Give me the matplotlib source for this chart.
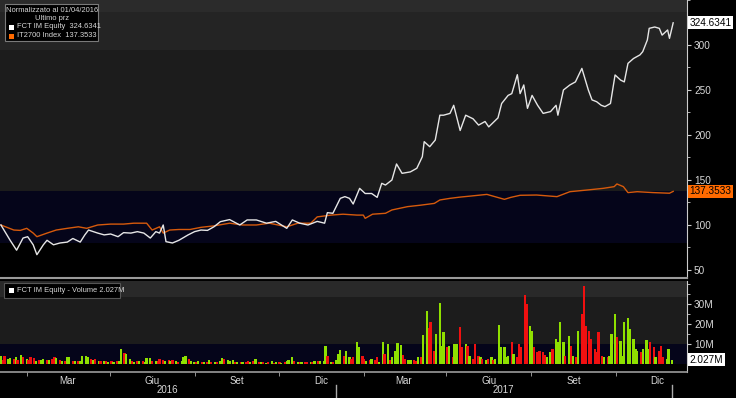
import pandas as pd
import matplotlib
matplotlib.use("Agg")
import matplotlib.pyplot as plt
import matplotlib.dates as mdates
from matplotlib.patches import Rectangle
from matplotlib.ticker import FixedLocator, MultipleLocator
from matplotlib.transforms import blended_transform_factory

plt.rcParams['font.family'] = ['Liberation Sans', 'DejaVu Sans']

# FCT IM Equity, normalised to 100 at 01/04/2016
fct_dates = [
    '2016-01-04', '2016-01-14', '2016-01-21', '2016-01-28', '2016-02-02', '2016-02-08',
    '2016-02-12', '2016-02-19', '2016-02-23', '2016-03-01', '2016-03-08', '2016-03-16',
    '2016-03-22', '2016-03-30', '2016-04-04', '2016-04-08', '2016-04-18', '2016-04-25',
    '2016-05-02', '2016-05-10', '2016-05-16', '2016-05-24', '2016-05-31', '2016-06-07',
    '2016-06-14', '2016-06-20', '2016-06-24', '2016-06-28', '2016-07-01', '2016-07-08',
    '2016-07-15', '2016-07-25', '2016-08-01', '2016-08-08', '2016-08-15', '2016-08-22',
    '2016-08-29', '2016-09-08', '2016-09-19', '2016-09-27', '2016-10-07', '2016-10-18',
    '2016-10-28', '2016-11-09', '2016-11-15', '2016-11-23', '2016-12-02', '2016-12-12',
    '2016-12-20', '2016-12-23', '2016-12-29', '2017-01-06', '2017-01-11', '2017-01-16',
    '2017-01-20', '2017-01-27', '2017-02-02', '2017-02-09', '2017-02-15', '2017-02-20',
    '2017-02-24', '2017-03-03', '2017-03-08', '2017-03-14', '2017-03-23', '2017-03-30',
    '2017-04-05', '2017-04-07', '2017-04-13', '2017-04-19', '2017-04-24', '2017-04-28',
    '2017-05-05', '2017-05-09', '2017-05-16', '2017-05-22', '2017-05-30', '2017-06-05',
    '2017-06-12', '2017-06-16', '2017-06-26', '2017-06-30', '2017-07-07', '2017-07-11',
    '2017-07-17', '2017-07-20', '2017-07-24', '2017-07-28', '2017-08-02', '2017-08-08',
    '2017-08-14', '2017-08-22', '2017-08-28', '2017-08-30', '2017-09-05', '2017-09-12',
    '2017-09-18', '2017-09-25', '2017-10-02', '2017-10-06', '2017-10-11', '2017-10-16',
    '2017-10-20', '2017-10-26', '2017-10-31', '2017-11-06', '2017-11-10', '2017-11-14',
    '2017-11-20', '2017-11-27', '2017-11-30', '2017-12-05', '2017-12-07', '2017-12-13',
    '2017-12-18', '2017-12-21', '2017-12-27', '2017-12-29', '2018-01-02']
fct_vals = [
    100, 83, 72, 85.5, 87, 78, 67, 78, 83, 78, 80, 81,
    85, 81, 89, 94.4, 91, 89, 90, 87, 91.5, 91, 92.6, 91,
    85.5, 92.6, 91, 100, 81.5, 80, 83, 89, 92.6, 94.4, 94, 98,
    103.7, 106, 100, 105.6, 105.6, 102, 104, 96.3, 105.6, 102, 100, 104,
    102, 113.7, 113, 129.6, 131.5, 129.6, 123.3, 140.7, 135, 135, 130.7, 146.3,
    144.4, 150, 167.8, 157.4, 159, 163, 175.9, 192.6, 187, 194.4, 222, 222,
    224, 233, 205, 222, 218, 211, 215, 209, 219, 235, 244, 246,
    267, 246, 255.6, 229.6, 244, 233, 224, 226, 233, 222, 250, 255.6,
    259, 274, 250, 239, 237, 233, 231.5, 235, 266.7, 261, 259, 279.6,
    285, 289, 292.6, 305.6, 318.5, 320, 318.5, 311, 316.7, 307.4, 324.6341]

# IT2700 Index, normalised to 100 at 01/04/2016
it_dates = [
    '2016-01-04', '2016-01-18', '2016-01-25', '2016-02-01', '2016-02-08', '2016-02-12',
    '2016-02-23', '2016-03-04', '2016-03-16', '2016-03-28', '2016-04-06', '2016-04-18',
    '2016-05-02', '2016-05-16', '2016-05-27', '2016-06-10', '2016-06-16', '2016-06-24',
    '2016-06-28', '2016-07-05', '2016-07-15', '2016-07-27', '2016-08-08', '2016-08-22',
    '2016-09-08', '2016-09-22', '2016-10-07', '2016-10-21', '2016-11-09', '2016-11-21',
    '2016-12-05', '2016-12-12', '2016-12-27', '2017-01-09', '2017-01-24', '2017-01-31',
    '2017-02-02', '2017-02-10', '2017-02-24', '2017-03-03', '2017-03-20', '2017-04-03',
    '2017-04-18', '2017-04-24', '2017-05-05', '2017-05-16', '2017-05-26', '2017-06-14',
    '2017-07-03', '2017-07-10', '2017-07-20', '2017-08-07', '2017-08-29', '2017-09-12',
    '2017-10-02', '2017-10-18', '2017-10-30', '2017-11-02', '2017-11-09', '2017-11-14',
    '2017-11-24', '2017-12-11', '2017-12-29', '2018-01-02']
it_vals = [
    100, 94.4, 94, 96.3, 91, 87, 91, 94.4, 96.3, 98, 96.3, 100,
    101, 101, 102, 102, 94.4, 98, 91, 94.4, 95, 95, 97.4, 99,
    102, 100, 100, 102, 98, 102, 102, 109, 111, 112, 111, 111,
    107.4, 112, 113, 116.7, 120.4, 122, 124, 127.8, 129.6, 131, 132, 134,
    128.5, 130.7, 133, 133.3, 131.5, 137, 139, 140.7, 142.6, 145.6, 142.6, 136,
    137, 136, 135.3, 137.3533]

# FCT volume (millions), one bar per two trading days, grouped by month
vol_m = [
    3.8, 2.0, 4.2, 2.5, 2.8, 2.5, 3.3, 2.2, 4.7, 3.3,
    2.5, 2.0, 3.3, 3.0, 1.7, 2.0, 2.2, 2.5, 1.8, 2.2, 2.5,
    3.3, 2.8, 2.0, 1.3, 1.5, 3.7, 3.7, 1.7, 1.7, 1.5, 1.5,
    3.8, 4.2, 3.3, 2.5, 1.8, 2.5, 1.5, 1.5, 1.3, 1.5, 1.2,
    1.3, 1.2, 1.5, 1.3, 7.5, 5.3, 5.0, 2.5, 1.5, 1.2, 1.5,
    1.3, 1.5, 1.2, 2.8, 3.0, 1.7, 1.5, 1.3, 2.5, 2.0, 1.5,
    2.2, 1.5, 2.0, 1.3, 1.2, 1.5, 3.3, 3.8, 2.5, 1.3,
    1.2, 1.0, 1.3, 1.0, 1.2, 0.8, 2.0, 1.2, 1.0, 1.2, 1.3, 3.0,
    2.5, 2.2, 1.7, 2.0, 0.8, 0.8, 1.0, 0.8, 0.8, 1.7, 1.0,
    1.7, 2.5, 0.8, 0.8, 1.0, 0.7, 0.8, 1.7, 0.7, 0.8,
    0.8, 0.7, 0.8, 1.7, 2.2, 3.7, 1.7, 0.8, 0.8, 0.8, 1.0,
    1.2, 1.2, 1.2, 1.7, 1.7, 1.3, 1.7, 8.8, 3.8, 1.2, 1.2,
    2.2, 5.0, 7.2, 4.2, 6.3, 3.3, 2.5, 3.3, 11.2, 8.3, 4.2,
    2.5, 1.7, 2.0, 2.5, 2.2, 3.3, 1.2, 10.8, 5.0, 10.0,
    2.2, 3.3, 6.7, 10.5, 9.5, 4.7, 2.5, 2.2, 2.0, 2.2, 1.7, 3.7,
    3.3, 14.5, 26.7, 18.0, 20.8, 6.7, 15.0, 30.5, 9.2, 15.8,
    8.3, 9.2, 3.3, 10.0, 10.0, 18.3, 8.3, 10.0, 9.2, 4.2, 2.5,
    10.0, 4.2, 3.3, 2.5, 2.0, 2.5, 3.3, 2.0, 2.5, 19.5, 8.3,
    8.3, 3.3, 4.2, 11.2, 5.0, 3.3, 10.0, 8.3, 34.5, 30.0, 19.0,
    16.7, 8.3, 5.8, 6.7, 5.8, 4.5, 3.3, 5.8, 7.5, 12.5, 10.8,
    20.8, 10.8, 4.2, 14.2, 9.2, 4.2, 3.3, 16.7, 25.0, 38.8, 19.0,
    16.7, 12.5, 7.5, 5.8, 15.8, 4.2, 3.3, 3.3, 4.2, 15.0, 25.0,
    13.3, 11.7, 4.2, 20.8, 22.8, 17.5, 12.5, 7.5, 6.7, 5.8, 7.5,
    12.0, 7.5, 10.8, 8.3, 3.3, 6.7, 9.2, 3.3, 2.5, 7.5,
    2.027]
# g = price up day, r = price down day
vol_dir = (
    "grrggrgrgr" "grrrgrggrgr" "rgrgrggrgrg" "gggrgrgrgrg" "rgrggrggrgr" "grgggrgrrrg"
    "rgrgrgggrg" "grgrgrgrgrgg" "rgggrgrgrrg" "rgrgrgrgrg" "rgrgggrgrgr" "rgrgrgggrgr"
    "gggrggrrggr" "rgrgrrggrg" "rggggrrggrrg" "rggrrrgggg" "rgrggrrgrgr" "rrgrgrgrggg"
    "gggrgrrrrrg" "grrrrrggrgg" "ggrgrgrgrrr" "rrrrrrgrggg" "rggggggggrg" "ggrrgrrrgg" "g")

month_ticks = ['2016-03-16', '2016-06-16', '2016-09-16', '2016-12-16',
               '2017-03-16', '2017-06-16', '2017-09-16', '2017-12-16']
month_labels = ['Mar', 'Giu', 'Set', 'Dic', 'Mar', 'Giu', 'Set', 'Dic']
quarter_ticks = ['2016-02-01', '2016-05-01', '2016-08-01', '2016-11-01',
                 '2017-02-01', '2017-05-01', '2017-08-01', '2017-11-01']
year_labels = ['2016', '2017']
year_centers = ['2016-07-02', '2017-07-02']
year_breaks = ['2017-01-01', '2018-01-01']

W, H = 736, 398
TXT = '#d8d8d8'
GREEN = '#8fe000'
RED = '#f01010'


def fx(x):
    return x / W


def fy(y):
    return 1 - y / H


fig = plt.figure(figsize=(W / 100, H / 100), dpi=100, facecolor='black')
ax = fig.add_axes([0, fy(278), fx(687), 278 / H], facecolor='black')
axv = fig.add_axes([0, fy(372), fx(687), (372 - 281) / H], facecolor='black')

xmin, xmax = pd.Timestamp('2016-01-03'), pd.Timestamp('2018-01-17')

# price panel
ax.axhspan(337, 360, color='#2b2b2b', lw=0, zorder=0)
ax.axhspan(294, 337, color='#242424', lw=0, zorder=0)
ax.axhspan(it_vals[-1], 294, color='#1c1c1c', lw=0, zorder=0)
ax.axhspan(80, it_vals[-1], color='#05051a', lw=0, zorder=0)
ax.plot(pd.to_datetime(it_dates), it_vals, color='#d65a0c', lw=1.0, zorder=3)
ax.plot(pd.to_datetime(fct_dates), fct_vals, color='#e6e6e6', lw=1.0, zorder=4)
ax.set_xlim(xmin, xmax)
ax.set_ylim(41.1, 350)
ax.yaxis.tick_right()
ax.set_yticks(range(50, 301, 50))
ax.yaxis.set_minor_locator(MultipleLocator(25))
ax.tick_params(axis='y', which='both', colors='#cccccc', labelcolor=TXT,
               direction='out', labelsize=7.2, pad=2)
ax.tick_params(axis='y', which='major', length=3)
ax.tick_params(axis='y', which='minor', length=2)
ax.tick_params(axis='x', which='both', bottom=False, labelbottom=False)
for s in ['top', 'left']:
    ax.spines[s].set_visible(False)
ax.spines['right'].set_color('#cccccc')
ax.spines['bottom'].set_color('#9a9a9a')
ax.spines['bottom'].set_linewidth(1.5)

tr = blended_transform_factory(ax.transAxes, ax.transData)
ax.text(1.004, fct_vals[-1], f'{fct_vals[-1]:.4f}', transform=tr, ha='left', va='center',
        fontsize=7.2, color='black', clip_on=False, zorder=10,
        bbox=dict(boxstyle='square,pad=0.15', fc='white', ec='none'))
ax.text(1.004, it_vals[-1], f'{it_vals[-1]:.4f}', transform=tr, ha='left', va='center',
        fontsize=7.2, color='black', clip_on=False, zorder=10,
        bbox=dict(boxstyle='square,pad=0.15', fc='#ff6a00', ec='none'))

# volume panel
vol_dates = pd.bdate_range('2016-01-04', '2018-01-02')[::2][:len(vol_m)]
axv.axhspan(33.5, 45, color='#292929', lw=0, zorder=0)
axv.axhspan(10, 33.5, color='#1c1c1c', lw=0, zorder=0)
axv.axhspan(0, 10, color='#05051a', lw=0, zorder=0)
axv.bar(vol_dates, vol_m, width=2.5, color=[GREEN if c == 'g' else RED for c in vol_dir],
        linewidth=0, zorder=3)
axv.set_xlim(xmin, xmax)
axv.set_ylim(-4, 41.5)
axv.yaxis.tick_right()
axv.set_yticks([0, 10, 20, 30])
axv.set_yticklabels(['', '10M', '20M', '30M'])
axv.yaxis.set_minor_locator(MultipleLocator(5))
axv.tick_params(axis='y', which='both', colors='#cccccc', labelcolor=TXT,
                direction='out', labelsize=7.2, pad=2)
axv.tick_params(axis='y', which='major', length=3)
axv.tick_params(axis='y', which='minor', length=2)
axv.set_xticks(pd.to_datetime(month_ticks))
axv.set_xticklabels(month_labels)
axv.xaxis.set_minor_locator(FixedLocator(mdates.date2num(pd.to_datetime(quarter_ticks))))
axv.tick_params(axis='x', which='major', length=0, labelsize=7, labelcolor=TXT, pad=3)
axv.tick_params(axis='x', which='minor', length=3, color='#aaaaaa', direction='out')
for s in ['top', 'left']:
    axv.spines[s].set_visible(False)
axv.spines['right'].set_color('#cccccc')
axv.spines['bottom'].set_color('#9a9a9a')
axv.spines['bottom'].set_linewidth(1.2)

trv = blended_transform_factory(axv.transAxes, axv.transData)
axv.text(1.004, vol_m[-1], f'{vol_m[-1]:.3f}M', transform=trv, ha='left', va='center',
         fontsize=7.2, color='black', clip_on=False, zorder=10,
         bbox=dict(boxstyle='square,pad=0.15', fc='white', ec='none'))

trx = blended_transform_factory(axv.transData, axv.transAxes)
for lab, c in zip(year_labels, year_centers):
    axv.text(pd.Timestamp(c), -0.2, lab, transform=trx, ha='center', va='center',
             fontsize=7, color=TXT, clip_on=False)
for b in year_breaks:
    axv.plot([pd.Timestamp(b)] * 2, [-0.14, -0.29], transform=trx, color='#aaaaaa',
             lw=1, clip_on=False)

# legends
fig.add_artist(Rectangle((fx(5), fy(41)), fx(93), 37 / H, transform=fig.transFigure,
                         fc='black', ec='#7a7a7a', lw=0.8))
fig.text(fx(52), fy(10), 'Normalizzato al 01/04/2016', ha='center', va='center',
         fontsize=5.4, color=TXT)
fig.text(fx(52), fy(18.5), 'Ultimo prz', ha='center', va='center', fontsize=5.4, color=TXT)
fig.add_artist(Rectangle((fx(9), fy(30)), fx(5), 5 / H, transform=fig.transFigure,
                         fc='white', ec='none'))
fig.text(fx(17), fy(27), f'FCT IM Equity  {fct_vals[-1]:.4f}', ha='left', va='center',
         fontsize=5.4, color=TXT)
fig.add_artist(Rectangle((fx(9), fy(38.5)), fx(5), 5 / H, transform=fig.transFigure,
                         fc='#ff6a00', ec='none'))
fig.text(fx(17), fy(35.5), f'IT2700 Index  {it_vals[-1]:.4f}', ha='left', va='center',
         fontsize=5.4, color=TXT)

fig.add_artist(Rectangle((fx(4), fy(298)), fx(116), 15 / H, transform=fig.transFigure,
                         fc='black', ec='#555555', lw=0.8))
fig.add_artist(Rectangle((fx(9), fy(293)), fx(5), 5 / H, transform=fig.transFigure,
                         fc='white', ec='none'))
fig.text(fx(17), fy(290.5), f'FCT IM Equity - Volume {vol_m[-1]:.3f}M', ha='left',
         va='center', fontsize=5.4, color=TXT)

fig.savefig('out.png', dpi=100, facecolor='black')
